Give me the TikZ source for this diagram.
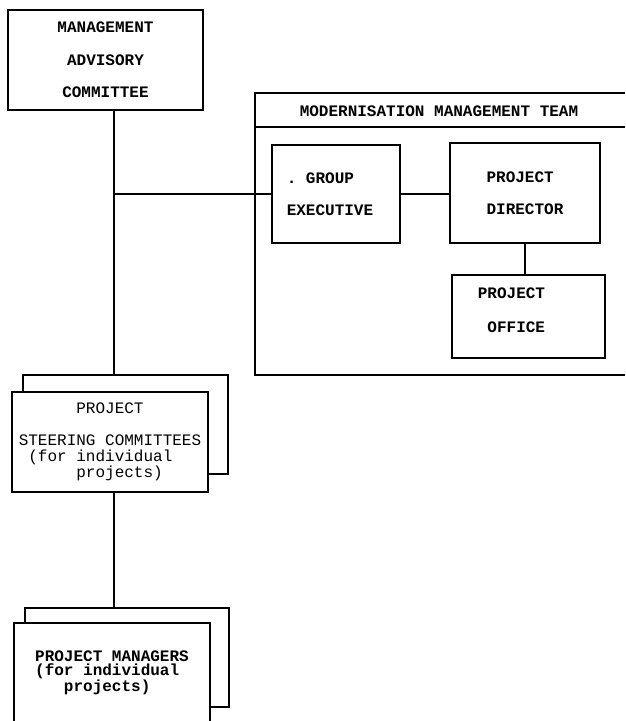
\documentclass[tikz,border=0pt]{standalone}
\usepackage{fontspec}
\setmonofont{Liberation Mono}
\usetikzlibrary{positioning}

\begin{document}
\begin{tikzpicture}[x=1pt, y=-1pt, line width=1.3pt,
  box/.style={draw, fill=white, inner sep=0pt, font=\fontsize{16}{32.5}\selectfont\ttfamily\bfseries},
  lbl/.style={inner sep=0pt, font=\fontsize{16}{32.5}\selectfont\ttfamily\bfseries}]
\useasboundingbox (0,0) rectangle (625,721);
% Advisory committee
\node[box, minimum width=195pt, minimum height=100pt, align=center] (mac) at (105.5,60) {MANAGEMENT\\ADVISORY\\COMMITTEE};
% Modernisation team frame (open at the right)
\draw (625,93) -- (255,93) -- (255,375) -- (625,375);
\draw (255,127) -- (625,127);
\node[lbl] (mmt) at (439,111) {MODERNISATION MANAGEMENT TEAM};
\node[box, minimum width=128pt, minimum height=98pt,
  label={[lbl, align=left, xshift=-6pt]center:.\ GROUP\\EXECUTIVE}] (ge) at (336,194) {};
\node[box, minimum width=150pt, minimum height=100pt, align=left] (pd) at (525,193) {PROJECT\\DIRECTOR};
\node[box, minimum width=153pt, minimum height=83pt,
  label={[lbl, align=right, font=\fontsize{16}{34}\selectfont\ttfamily\bfseries, xshift=-17pt, yshift=6pt]center:PROJECT\\OFFICE}] (po) at (528.5,316.5) {};
% Steering committees (stacked boxes)
\node[box, minimum width=205pt, minimum height=99pt] (scback) at (125.5,424.5) {};
\node[box, minimum width=196pt, minimum height=100pt, align=left, font=\fontsize{16}{16}\selectfont\ttfamily] (sc) at (110,442)
  {\phantom{XXXXXX}PROJECT\\[16pt]STEERING COMMITTEES\\\phantom{X}(for individual\\\phantom{XXXXXX}projects)};
% Project managers (stacked boxes, cut by the page edge)
\node[box, minimum width=204pt, minimum height=99pt] (pmback) at (127,657.5) {};
\node[box, minimum width=196pt, minimum height=100pt, align=left, font=\fontsize{16}{14.5}\selectfont\ttfamily\bfseries] (pm) at (112,673)
  {PROJECT MANAGERS\\(for individual\\\phantom{XXX}projects)};
% Connectors
\coordinate (jn) at (114,194);
\draw (mac.south -| jn) -- (scback.north -| jn);
\draw (jn) -- (ge.west);
\draw (ge.east) -- (ge.east -| pd.west);
\draw (pd.south) -- (pd.south |- po.north);
\draw (sc.south -| jn) -- (pmback.north -| jn);
\end{tikzpicture}
\end{document}
